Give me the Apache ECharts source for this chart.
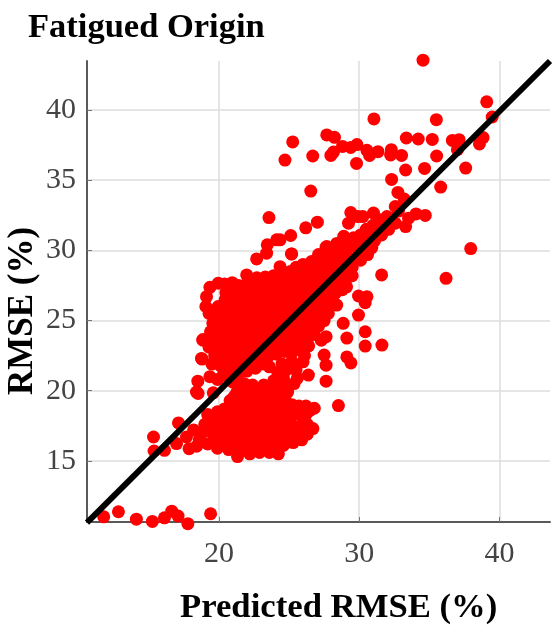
<!DOCTYPE html>
<html><head><meta charset="utf-8">
<style>html,body{margin:0;padding:0;background:#fff}#c{width:553px;height:626px}</style>
<script src="https://cdn.jsdelivr.net/npm/echarts@6/dist/echarts.min.js"></script></head>
<body><div id="c"></div>
<script>
const chartTitle = "Fatigued Origin";
const xTitle = "Predicted RMSE (%)";
const yTitle = "RMSE (%)";
const diagonal = [[10.6,10.6],[43.6,43.5]];
const outliers = [[34.55,43.56],[39.09,40.59],[39.48,39.51],[31.05,39.37],[35.5,39.32],[25.26,37.73],[27.69,38.23],[28.24,38.06],[33.36,38.01],[34.21,37.94],[35.21,37.91],[36.64,37.84],[37.12,37.89],[38.83,38.04],[38.57,37.59],[37,37.18],[24.71,36.44],[26.69,36.73],[27.98,36.77],[28.17,37.01],[28.81,37.41],[29.4,37.34],[29.84,37.54],[30.55,37.13],[30.74,36.77],[31.34,37.04],[32.29,37.18],[32.24,36.8],[33.02,36.77],[35.52,36.73],[29.81,36.2],[33.31,35.73],[34.66,35.84],[37.59,35.87],[32.31,35.06],[35.81,34.51],[26.55,34.23],[32.76,34.13],[33.21,33.66],[32.57,33.13],[29.4,32.7],[31.02,32.66],[30.26,32.41],[29.24,31.94],[29.91,32.41],[27.02,32.01],[26.19,31.61],[25.12,31.06],[24.36,30.75],[34.05,32.6],[34.71,32.49],[33.52,32.3],[33.31,31.7],[32.57,31.94],[31.98,32.41],[37.95,30.13],[36.19,28.01],[31.6,28.25],[25.17,29.75],[27.64,30.23],[23.57,32.34],[23.45,30.4],[24.12,30.75],[22.69,29.39],[21.98,28.25],[23.4,29.8],[24.36,28.84],[25.19,29.75],[27.69,30.27],
[29.95,26.75],[30.55,26.7],[30.43,26.27],[29.95,25.39],[30.43,24.2],[30.43,23.18],[31.62,23.25],[27.5,22.54],[27.64,21.82],[29.12,22.41],[29.41,21.98],[27.64,20.68],[26.38,21.11],[25.36,20.51],[25.07,21.6],[26,22.06],[29.12,23.75],[28.86,24.8],[28.4,26.1],[27.64,23.85],[28.52,18.94]];
const bottomPoints = [[11.79,11.01],[12.84,11.37],[14.12,10.84],[15.26,10.68],[16.12,10.94],[16.64,11.41],[17.09,11.06],[17.79,10.52],[19.41,11.23]];
const leftPoints = [[15.34,16.7],[15.38,15.7],[16.12,15.75],[17.12,17.7],[16.98,16.23],[17.88,15.87],[18.41,16.04],[17.69,16.7],[18.52,19.8],[18.5,20.68],[18.4,19.9],[19.36,21],[18.76,22.3],[18.86,23.6],[19.6,19.85],[19.1,17.4]];
const mainBlob = [
[19.95,27.66],[19.36,27.37],[20.4,27.6],[20.95,27.7],[21.4,27.5],[22.1,27.9],[22.7,28.05],[23.3,28.1],[23.9,28.2],[24.5,28.4],[25.1,28.5],[25.7,28.7],
[19.12,26.7],[19.07,26],[19.3,25.5],[20.5,27],[21.05,27.1],[21.6,27],[22.2,27.3],[22.8,27.4],[23.4,27.5],[24,27.7],[24.6,27.8],[25.2,28],[25.8,28.1],[26.3,28.4],
[20.45,26.5],[21,26.5],[21.6,26.4],[22.2,26.6],[22.8,26.8],[23.4,26.9],[24,27.1],[24.6,27.2],[25.2,27.4],[25.8,27.5],[26.4,27.8],[26.9,28.2],
[19.95,26],[20.5,25.95],[21.1,25.9],[21.7,25.85],[22.3,26],[22.9,26.2],[23.5,26.3],[24.1,26.5],[24.7,26.6],[25.3,26.8],[25.9,27],[26.5,27.2],[27.1,27.6],
[19.7,25.4],[20.3,25.4],[20.9,25.3],[21.5,25.3],[22.1,25.4],[22.7,25.6],[23.3,25.7],[23.9,25.9],[24.5,26],[25.1,26.2],[25.7,26.4],[26.3,26.6],[26.9,27],[27.5,27.5],
[19.57,24.8],[20.1,24.85],[20.7,24.7],[21.3,24.75],[21.9,24.8],[22.5,25],[23.1,25.1],[23.7,25.3],[24.3,25.4],[24.9,25.6],[25.5,25.8],[26.1,26],[26.7,26.3],[27.3,26.7],[27.9,27.2],
[19.4,24.2],[20,24.3],[20.6,24.15],[21.2,24.2],[21.8,24.2],[22.4,24.4],[23,24.5],[23.6,24.7],[24.2,24.9],[24.8,25],[25.4,25.2],[26,25.4],[26.6,25.6],[27.2,26],[27.8,26.2],[28.1,26.5],
[18.86,23.65],[19.5,23.6],[20.1,23.7],[20.7,23.6],[21.3,23.6],[21.9,23.7],[22.5,23.8],[23.1,23.95],[23.7,24.1],[24.3,24.3],[24.9,24.5],[25.5,24.6],[26.1,24.8],[26.7,25],[27.3,25.3],[27.8,25.5],
[19.3,23.1],[19.9,23.1],[20.5,23],[21.1,23],[21.7,23.1],[22.3,23.2],[22.9,23.4],[23.5,23.5],[24.1,23.7],[24.7,23.9],[25.3,24],[25.9,24.2],[26.5,24.4],[27.1,24.6],[27.5,25],
[19.7,22.5],[20.3,22.5],[20.9,22.4],[21.5,22.5],[22.1,22.6],[22.7,22.8],[23.3,22.9],[23.9,23.1],[24.5,23.3],[25.1,23.4],[25.7,23.5],[26.3,23.8],[26.8,24],[27.3,23.6],
[20.5,21.9],[21.1,21.8],[21.7,21.9],[22.3,22.1],[22.9,22.3],[23.5,22.4],[24.1,22.6],[24.7,22.8],[25.3,22.8],[25.9,23],[26.4,23.2],[26.1,22.5],[25.2,22.1],[24.5,21.9],
[20.9,21.2],[21.5,21.3],[22,21.4],[22.6,21.6],[23.6,21.7],[24.2,21.3],[20.3,21.1],[19.9,20.8],[21,20.6],[21.5,20.6],[24.6,20.9],[23.9,20.7],[24.7,21.4],[25.5,21.5],[23.2,21.9],
[18.8,22.25],[19.5,21.9],[20.15,21.75],[24.95,20.3],[25.6,20.9]
];
const ridge = [
[26.5,28.6],[27,28.6],[27.5,28.9],[28,29.2],[28.6,29.6],[29.1,30],[29.7,30.3],[30.3,30.6],[30.8,31],[31.3,31.4],[31.8,31.8],[32.3,32.3],[32.8,32.8],
[27,29.1],[27.6,29.5],[28.1,29.8],[28.6,30.2],[29.1,30.6],[29.6,30.9],[30.1,31.1],[30.5,31.5],[31,31.8],[31.4,32.2],[28.4,30.5],[28.9,31],[27.1,29.7],[26.6,29.2],[26,29],[25.5,28.8],
[27.6,28.4],[28.2,28.7],[28.8,29],[29.4,29.4],[30,29.9],[30.6,30.3],[31.1,30.7],[31.6,31.1],[32.1,31.5],
[27.2,28],[27.8,27.9],[28.4,28.1],[29,28.4],[29.5,28.8],[30.1,29.3],[30.6,29.7],[30.9,30.2],[27.9,27.3],[28.5,27.5],[29,27.8],[29.5,28.2],[28.3,26.95],[28.8,27.2],[29.1,27.4]
];
const lowerBlob = [
[21.33,15.3],[22.2,15.5],[22.9,15.6],[23.6,15.6],[24.24,15.5],[20.7,15.8],[19.9,15.9],[19.2,16.2],[18.6,16.5],[18.2,17.2],
[19.7,16.4],[20.4,16.3],[21.1,16],[21.8,16],[22.5,16.1],[23.2,16.2],[23.9,16.1],[24.6,16.1],[25.3,16.3],[25.9,16.5],
[18.8,17],[19.5,17],[20.2,16.9],[20.9,16.7],[21.6,16.7],[22.3,16.7],[23,16.8],[23.7,16.8],[24.4,16.7],[25.1,16.8],[25.8,17],[26.3,16.9],[26.7,17.3],
[19,17.6],[19.7,17.6],[20.4,17.5],[21.1,17.4],[21.8,17.3],[22.5,17.4],[23.2,17.4],[23.9,17.4],[24.6,17.4],[25.3,17.5],[26,17.7],
[19.5,18.1],[20.2,18.1],[20.9,18],[21.6,18],[22.3,18],[23,18],[23.7,18],[24.4,18],[25.1,18.1],[25.8,18.3],[26.2,18.3],[26.5,18.6],[26.8,18.75],
[20.4,18.7],[21.1,18.6],[21.8,18.6],[22.5,18.6],[23.2,18.6],[23.9,18.7],[25.2,19],[25.7,18.9],[26.2,18.9],
[20.8,19.3],[21.5,19.2],[22.2,19.2],[22.9,19.3],[23.6,19.3],[24.2,19.4],[24.6,18.8],[21.3,19.9],[22,19.9],[22.7,19.9],[23.5,20],[24.3,20.1],[24.9,19.9],[21.8,20.5],[23.2,20.4],[22.4,20.4],
[19.2,18.3],[19.9,18.5],[20.6,18.3],[21.3,18.3],[22,18.3],[22.7,18.3],[23.4,18.3],[24.1,18.3],[24.8,18.4],[25.5,18.5],[20.1,17.2],[20.8,17.1],[21.5,17],[22.2,17],[22.9,17.1],[23.6,17.1],[24.3,17.1],[25,17.1],[25.7,17.3],[26.3,17.6],[26.2,17.2],[19.9,16.7],[20.6,16.6],[21.3,16.4],[22,16.4],[22.7,16.4],[23.4,16.5],[24.1,16.4],[24.8,16.4],[25.5,16.6],[21.1,19],[21.8,18.9],[22.5,18.9],[23.2,19],[23.9,19],[21.1,19.6],[21.8,19.6],[22.5,19.6],[23.2,19.7],[23.9,19.7],[24.7,19.4],[21.6,15.7],[22.6,15.8],[23.3,15.9],[24,15.8]
];
const allPoints = [].concat(outliers, bottomPoints, leftPoints, mainBlob, ridge, lowerBlob);
const chart = echarts.init(document.getElementById('c'), null, {renderer:'canvas'});
const axisCommon = {
  axisLine:{show:true,onZero:false,lineStyle:{color:'#5a5a5a',width:2}},
  axisTick:{show:true,inside:true,length:5,lineStyle:{color:'#777',width:1}},
  splitLine:{show:true,showMinLine:false,showMaxLine:false,lineStyle:{color:'#dcdcdc',width:1.5}},
  axisLabel:{fontFamily:'Liberation Serif',fontSize:30,color:'#444',showMinLabel:false,showMaxLabel:false}
};
chart.setOption({
  animation:false,
  backgroundColor:'#fff',
  grid:{left:87,top:61,width:463,height:461,containLabel:false},
  xAxis:Object.assign({type:'value',min:10.6,max:43.6,splitNumber:3},axisCommon,{axisLabel:Object.assign({},axisCommon.axisLabel,{margin:17})}),
  yAxis:Object.assign({type:'value',min:10.64,max:43.5,splitNumber:6},axisCommon,{axisLabel:Object.assign({},axisCommon.axisLabel,{margin:11,padding:[5,0,0,0]})}),
  title:[
    {text:chartTitle,left:23,top:6,textStyle:{fontFamily:'Liberation Serif',fontWeight:'bold',fontSize:34.5,color:'#000'}},
    {text:xTitle,left:175,top:586,textStyle:{fontFamily:'Liberation Serif',fontWeight:'bold',fontSize:34.7,color:'#000'}}
  ],
  graphic:[{type:'text',x:23,y:311,rotation:Math.PI/2,style:{text:yTitle,fontFamily:'Liberation Serif',fontWeight:'bold',fontSize:35,fill:'#000',textAlign:'center',textVerticalAlign:'middle'}}],
  series:[
    {type:'scatter',data:allPoints,symbol:'circle',symbolSize:13,clip:false,itemStyle:{color:'#ff0000',opacity:1},z:3},
    {type:'line',data:diagonal,symbol:'none',clip:false,lineStyle:{color:'#000',width:6},z:4}
  ]
});
</script></body></html>
